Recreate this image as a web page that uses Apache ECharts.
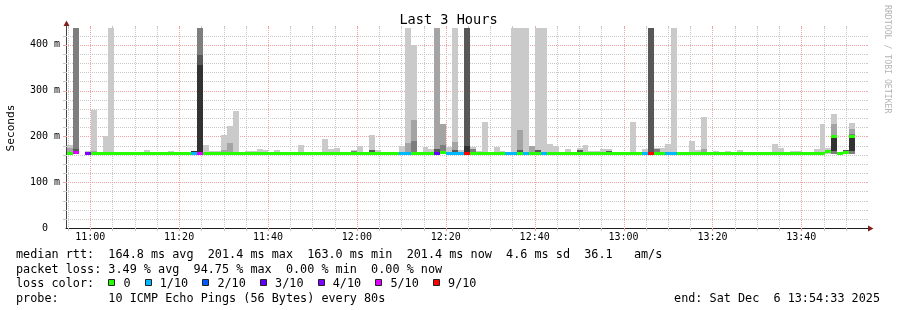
<!DOCTYPE html>
<html><head><meta charset="utf-8">
<script src="https://cdn.jsdelivr.net/npm/echarts@6/dist/echarts.min.js"></script>
<style>html,body{margin:0;padding:0;background:#fff}#c{width:897px;height:310px}</style>
</head><body><div id="c"></div>
<script>
// ===== data =====
const xMinMinutes = 654.55;          // 10:54:33
const xMaxMinutes = 834.55;          // 13:54:33
const yMaxMs = 436.7;
const binStartMin = 654.77;          // first 80 s step (minutes after midnight)
const binLenMin = 80 / 60;

// median rtt per 80 s step (ms); null = no data
const medianMs = [
  164.5,165,null,164,164,164,164,164,164,164,
  164,164,164,164,164,163,164,164,164,164,
  164,164,164.5,164,164,164,164,164,164,163.5,
  164,164,164,164,164,164,164,164,164,164,
  163,164,164,164,164,164,164,164,164,164,
  164,164,164,164,164,164,164,164,164,163,
  164,164,164,166.5,164,164,163.5,164,164,164,
  164,164,164,164,164,164,164,164,164,164,
  164,164,164,164,164,164,164,164,164,164,
  164,164,164,164,164,164,164,164,164,164,
  164,164,164,164,164,164,164,164,163,164,
  164,164,164,164,164,164,164,164,164,164,
  164,164,164,164,164,164,164,164,167.5,200.8,
  163,167,201.4
];
// [step index, lost pings out of 10]
const lossSteps = [[1,5],[3,4],[21,1],[22,5],[56,1],[57,1],[62,3],[64,1],[65,1],[66,1],[67,9],
  [74,1],[75,1],[77,1],[80,1],[97,1],[98,9],[101,1],[102,1]];
// smoke bands: [step index, smoke level 1(outer)..5(inner), low ms, high ms]
const smokeBands = [
  [0,1,161,182],[0,2,162,175],
  [1,3,168,1000],[1,4,165,172],
  [3,1,161,169],
  [4,1,161,257],[4,2,162,169],
  [6,1,161,201],
  [7,1,161,1000],
  [13,1,161,171],[15,1,160,167],[17,1,161,169],[20,1,161,167],
  [21,5,164,168.5],
  [22,3,378,1000],[22,4,356,378],[22,5,165,356],
  [23,1,161,182],[24,1,161,169],[25,1,161,169],
  [26,1,161,204],[26,2,162,171],
  [27,1,161,222],[27,2,162,186],
  [28,1,161,255],
  [30,1,161,169],[31,1,161,169],[32,1,161,173],[33,1,161,171],[35,1,161,171],
  [39,1,161,182],[42,1,161,167],[43,1,161,195],[44,1,161,173],[45,1,161,175],
  [48,1,161,171],[48,3,163,169],[49,1,161,180],
  [51,1,161,204],[51,4,166,171],[52,1,161,171],
  [56,1,161,178],
  [57,1,161,1000],[57,2,162,186],
  [58,1,161,400],[58,2,162,236],[58,3,163,190],
  [60,1,161,177],[61,1,161,173],
  [62,2,161,1000],[62,4,164,172],
  [63,2,161,227],[63,3,162,182],
  [64,1,161,177],
  [65,1,161,1000],[65,2,162,188],[65,4,164,171],
  [66,1,161,171],
  [67,4,165,1000],[67,5,165,180],
  [68,1,161,177],[68,3,162,173],[69,1,161,169],[70,1,161,232],[72,1,161,177],[73,1,161,168],
  [75,1,161,1000],
  [76,1,161,1000],[76,2,162,215],[76,4,164,171],
  [77,1,161,1000],
  [78,1,161,180],[78,2,162,178],
  [79,1,161,1000],[79,4,164,170],
  [80,1,161,1000],
  [81,1,161,184],[82,1,161,178],[84,1,161,173],[86,1,161,175],[86,4,164,171],[87,1,161,182],
  [88,1,161,169],[89,1,161,169],[90,1,161,173],[91,1,161,173],[91,4,164,169],
  [95,1,161,232],[97,1,161,173],
  [98,4,165,1000],
  [99,1,161,175],[99,3,162,173],[100,1,161,175],[101,1,161,184],
  [102,1,161,1000],
  [105,1,161,191],[106,1,161,171],[107,1,161,243],[107,2,162,173],
  [109,1,161,169],[111,1,161,169],[113,1,161,171],[116,1,161,167],
  [119,1,161,184],[120,1,161,175],[122,1,161,169],[123,1,161,169],
  [126,1,161,173],[127,1,161,226],[128,1,161,175],[128,5,167,170],
  [129,1,161,250],[129,2,161,228],[129,3,161,201],[129,5,168,201],
  [131,4,165,169.5],
  [132,1,161,230],[132,2,161,217],[132,3,161,206],[132,5,169,201]
];
const xTickMinutes = [660,680,700,720,740,760,780,800,820];
const yTickMs = [0,100,200,300,400];
const lossLegendCounts = [0,1,2,3,4,5,9];
const lossLegendLabels = ['0','1/10','2/10','3/10','4/10','5/10','9/10'];
const rttStats = ['164.8 ms avg','201.4 ms max','163.0 ms min','201.4 ms now','4.6 ms sd','36.1   am/s'];
const lossStats = ['3.49 % avg','94.75 % max','0.00 % min','0.00 % now'];
const probeText = '10 ICMP Echo Pings (56 Bytes) every 80s';
const endText = 'end: Sat Dec  6 13:54:33 2025';
const titleText = 'Last 3 Hours';
const watermark = 'RRDTOOL / TOBI OETIKER';

// ===== styles =====
const FONT = 'DejaVu Sans Mono';
const lossColors = {0:'#26ff00',1:'#00b8ff',2:'#0059ff',3:'#5e00ff',4:'#7e00ff',5:'#dd00ff',9:'#ff0000'};
const smokeColors = ['#cacaca','#a4a4a4','#7e7e7e','#585858','#323232'];
const GRID_MINOR = '#c8c8c8';
const GRID_MAJOR = '#eea4a4';
const ARROW = '#801f1f';
const AXIS = '#1f1f1f';

// ===== build series data =====
const lossByStep = {};
lossSteps.forEach(([i, n]) => { lossByStep[i] = n; });
const stepT0 = i => binStartMin + i * binLenMin;
const medianData = [];
medianMs.forEach((m, i) => {
  if (m == null) return;
  medianData.push([stepT0(i), stepT0(i + 1), m, lossByStep[i] || 0]);
});
const smokeData = smokeBands.map(([i, lvl, lo, hi]) => [stepT0(i), stepT0(i + 1), lo, hi, lvl]);

const gridData = [];
for (let t = 655; t < xMaxMinutes; t += 5) gridData.push([t % 20 === 0 ? 1 : 0, t]);
for (let v = 20; v < yMaxMs; v += 20) gridData.push([v % 100 === 0 ? 3 : 2, v]);

function renderGrid(params, api) {
  const cs = params.coordSys;
  const kind = api.value(0), v = api.value(1);
  const col = (kind === 1 || kind === 3) ? GRID_MAJOR : GRID_MINOR;
  const x0 = cs.x, x1 = cs.x + cs.width, y0 = cs.y, y1 = cs.y + cs.height;
  if (kind < 2) {
    const x = Math.round(api.coord([v, 0])[0]) + 0.5;
    return {type:'group', children:[
      {type:'line', shape:{x1:x, y1:y0, x2:x, y2:y1}, style:{stroke:col, lineWidth:1, lineDash:[1,1]}},
      {type:'line', shape:{x1:x, y1:y1, x2:x, y2:y1 + 3}, style:{stroke:col, lineWidth:1}},
      {type:'line', shape:{x1:x, y1:y0 - 2, x2:x, y2:y0}, style:{stroke:col, lineWidth:1}}
    ]};
  }
  const y = Math.round(api.coord([xMinMinutes, v])[1]) + 0.5;
  return {type:'group', children:[
    {type:'line', shape:{x1:x0, y1:y, x2:x1, y2:y}, style:{stroke:col, lineWidth:1, lineDash:[1,1]}},
    {type:'line', shape:{x1:x0 - 3, y1:y, x2:x0, y2:y}, style:{stroke:col, lineWidth:1}},
    {type:'line', shape:{x1:x1, y1:y, x2:x1 + 2, y2:y}, style:{stroke:col, lineWidth:1}}
  ]};
}

function renderSmoke(params, api) {
  const cs = params.coordSys;
  const p0 = api.coord([api.value(0), api.value(3)]);
  const p1 = api.coord([api.value(1), api.value(2)]);
  const x = Math.round(p0[0]), xe = Math.round(p1[0]);
  const y = Math.round(p0[1]), ye = Math.round(p1[1]);
  const r = echarts.graphic.clipRectByRect({x:x, y:y, width:xe - x, height:ye - y},
    {x:cs.x, y:cs.y, width:cs.width, height:cs.height});
  if (!r) return null;
  return {type:'rect', shape:r, style:{fill:smokeColors[api.value(4) - 1]}};
}

function renderMedian(params, api) {
  const p0 = api.coord([api.value(0), api.value(2)]);
  const p1 = api.coord([api.value(1), api.value(2)]);
  const x = Math.round(p0[0]), xe = Math.round(p1[0]);
  const y = Math.round(p0[1] - 1);
  return {type:'rect', shape:{x:x, y:y, width:xe - x, height:3}, style:{fill:lossColors[api.value(3)]}};
}

function renderArrows(params, api) {
  const cs = params.coordSys;
  const x0 = cs.x + 0.5, x1 = cs.x + cs.width, y0 = cs.y, y1 = cs.y + cs.height + 0.5;
  if (api.value(0) === 0) {
    return {type:'group', children:[
      {type:'line', shape:{x1:x1 - 1, y1:y1, x2:x1 + 4, y2:y1}, style:{stroke:AXIS, lineWidth:1}},
      {type:'polygon', shape:{points:[[x1 + 2, y1 - 3],[x1 + 2, y1 + 3],[x1 + 7.5, y1]]}, style:{fill:ARROW}}
    ]};
  }
  return {type:'group', children:[
    {type:'line', shape:{x1:x0, y1:y0 + 1, x2:x0, y2:y0 - 4}, style:{stroke:'#444', lineWidth:1}},
    {type:'polygon', shape:{points:[[x0 - 3, y0 - 2],[x0 + 3, y0 - 2],[x0, y0 - 7.5]]}, style:{fill:ARROW}}
  ]};
}

// ===== legend graphics =====
const CW = 7.11, LX = 16, LFS = 11.8;
const lineY = [255.3, 269.8, 284.2, 298.5];
const txt = (x, y, s, extra) => Object.assign({type:'text', x:x, y:y,
  style:{text:s, fontFamily:FONT, fontSize:LFS, fill:'#000', align:'left', verticalAlign:'middle'}}, extra || {});
const graphics = [
  txt(LX, lineY[0], 'median rtt:  ' + rttStats.join('  ')),
  txt(LX, lineY[1], 'packet loss: ' + lossStats.join('  ')),
  txt(LX, lineY[2], 'loss color:'),
  txt(LX, lineY[3], 'probe:       ' + probeText),
  {type:'text', x:880, y:lineY[3], style:{text:endText, fontFamily:FONT, fontSize:LFS, fill:'#000', align:'right', verticalAlign:'middle'}},
  {type:'text', x:887.5, y:5, rotation:-Math.PI / 2,
    style:{text:watermark, fontFamily:FONT, fontSize:8.2, fill:'#b4b4b4', align:'left', verticalAlign:'middle'}}
];
let bx = LX + 13 * CW;
lossLegendCounts.forEach((n, k) => {
  graphics.push({type:'rect', shape:{x:Math.round(bx) + 0.5, y:279.5, width:6, height:6},
    style:{fill:lossColors[n], stroke:'#222', lineWidth:1}});
  const tx = bx + 15;
  graphics.push(txt(tx, lineY[2], lossLegendLabels[k]));
  bx = tx + (lossLegendLabels[k].length + 2) * CW;
});

const pad2 = n => (n < 10 ? '0' : '') + n;
const chart = echarts.init(document.getElementById('c'), null, {renderer:'canvas'});
chart.setOption({
  animation:false,
  backgroundColor:'#fff',
  title:{text:titleText, left:'center', top:13, padding:0,
    textStyle:{fontFamily:FONT, fontSize:13.6, fontWeight:'normal', color:'#000'}},
  grid:{left:66, top:28, width:800, height:200, containLabel:false, outerBoundsMode:'none'},
  xAxis:{type:'value', min:xMinMinutes, max:xMaxMinutes,
    axisLine:{show:true, lineStyle:{color:AXIS, width:1}},
    axisTick:{show:false}, splitLine:{show:false},
    axisLabel:{customValues:xTickMinutes, margin:4, fontFamily:FONT, fontSize:10, color:'#000',
      formatter:v => pad2(Math.floor(v / 60)) + ':' + pad2(Math.round(v % 60))}},
  yAxis:{type:'value', min:0, max:yMaxMs,
    name:'Seconds', nameLocation:'middle', nameGap:49,
    nameTextStyle:{fontFamily:FONT, fontSize:11.2, color:'#000'},
    axisLine:{show:true, lineStyle:{color:'#444', width:1}},
    axisTick:{show:false}, splitLine:{show:false},
    axisLabel:{customValues:yTickMs, margin:6, fontFamily:FONT, fontSize:10, color:'#000',
      formatter:v => v === 0 ? '0  ' : v + ' m'}},
  series:[
    {type:'custom', name:'grid', data:gridData, renderItem:renderGrid, silent:true, z:1},
    {type:'custom', name:'smoke', data:smokeData, renderItem:renderSmoke, silent:true, z:2,
      encode:{x:[0,1], y:[2,3]}},
    {type:'custom', name:'median', data:medianData, renderItem:renderMedian, silent:true, z:3,
      encode:{x:[0,1], y:[2]}},
    {type:'custom', name:'arrows', data:[[0],[1]], renderItem:renderArrows, silent:true, z:4}
  ],
  graphic:graphics
});
</script></body></html>
